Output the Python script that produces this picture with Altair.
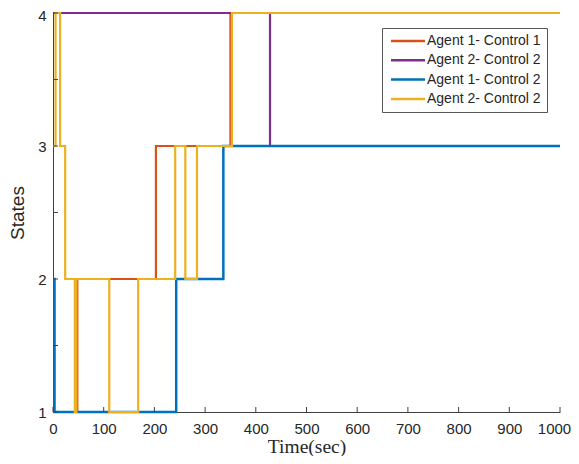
import altair as alt
import pandas as pd

# ---- data ----
series_keys = ["o", "p", "b", "y"]
series_labels = ["Agent 1- Control 1", "Agent 2- Control 2", "Agent 1- Control 2", "Agent 2- Control 2"]
series_colors = ["#D95319", "#7E2F8E", "#0072BD", "#EDB120"]

orange_t = [0, 48, 203, 350, 1000]
orange_s = [1, 2, 3, 4, 4]
purple_t = [0, 428, 1000]
purple_s = [4, 3, 3]
blue_t = [0, 3, 243, 336, 1000]
blue_s = [2, 1, 2, 3, 3]
yellow_t = [0, 5, 14, 24, 43, 46, 111, 168, 241, 261, 284, 353, 1000]
yellow_s = [3, 4, 3, 2, 1, 2, 1, 2, 3, 2, 3, 4, 4]

x_ticks = [0, 100, 200, 300, 400, 500, 600, 700, 800, 900, 1000]
y_ticks = [1, 1.5, 2, 2.5, 3, 3.5, 4]
y_labels = [1, 2, 3, 4]

rows = []
for key, ts, ss in zip(series_keys, [orange_t, purple_t, blue_t, yellow_t],
                       [orange_s, purple_s, blue_s, yellow_s]):
    for t, s in zip(ts, ss):
        rows.append({"series": key, "t": t, "s": s})
df = pd.DataFrame(rows)

W, H = 507, 399
axis_color = "#404040"
text_color = "#262626"

xscale = alt.Scale(domain=[0, 1000], nice=False, zero=False)
yscale = alt.Scale(domain=[1, 4], nice=False, zero=False)

label_map = "{" + ", ".join(f"'{k}': '{v}'" for k, v in zip(series_keys, series_labels)) + "}"
label_expr = label_map + "[datum.value]"

color_enc = alt.Color(
    "series:N",
    scale=alt.Scale(domain=series_keys, range=series_colors),
    legend=alt.Legend(
        title=None, orient="none", legendX=329, legendY=15,
        symbolType="M-1,0H7.5", symbolSize=64, symbolStrokeWidth=2.5,
        symbolFillColor="transparent",
        labelExpr=label_expr, labelFont="Liberation Sans", labelFontSize=14,
        labelColor=text_color, labelOffset=25, rowPadding=5.3,
        padding=6, strokeColor="#555555", fillColor="white",
        values=series_keys,
    ),
)

x_axis = alt.Axis(values=x_ticks, ticks=False, labelPadding=9, grid=False, format="d",
                  labelOffset={"condition": {"test": "datum.value == 1000", "value": -6}, "value": 0},
                  title="Time(sec)", titleFont="Liberation Serif", titleFontSize=19.5,
                  titlePadding=1)
y_axis = alt.Axis(values=y_labels, ticks=False, labelPadding=7, grid=False,
                  labelOffset={"condition": {"test": "datum.value == 4", "value": 2}, "value": 0},
                  title="States", titleFont="Liberation Sans", titleFontSize=19,
                  titlePadding=10, format="d")

base = alt.Chart(df)
layers = []
for key in series_keys:
    layer = base.transform_filter(alt.datum.series == key).mark_line(
        interpolate="step-after", strokeWidth=2.5 if key == "b" else 2.2, clip=False
    ).encode(
        x=alt.X("t:Q", scale=xscale, axis=x_axis),
        y=alt.Y("s:Q", scale=yscale, axis=y_axis),
        color=color_enc,
    )
    layers.append(layer)

xt = alt.Chart(pd.DataFrame({"t": x_ticks})).mark_rule(color=axis_color, strokeWidth=1).encode(
    x=alt.X("t:Q", scale=xscale, axis=x_axis), y=alt.value(H), y2=alt.value(H - 5))
yt = alt.Chart(pd.DataFrame({"s": y_ticks})).mark_rule(color=axis_color, strokeWidth=1).encode(
    y=alt.Y("s:Q", scale=yscale, axis=y_axis), x=alt.value(0), x2=alt.value(5))

chart = alt.layer(*layers, xt, yt).properties(
    width=W, height=H,
    autosize=alt.AutoSizeParams(type="none"),
    padding={"left": 45, "top": 5, "right": 11, "bottom": 44},
    background="white",
).configure_view(stroke=None).configure_axis(
    labelFont="Liberation Sans", labelFontSize=15, labelColor=text_color,
    domainColor=axis_color, domainWidth=1, titleColor=text_color,
    titleFontWeight="normal", labelFlush=False,
)

chart.save("out.html", embed_options={"renderer": "svg", "actions": False})
